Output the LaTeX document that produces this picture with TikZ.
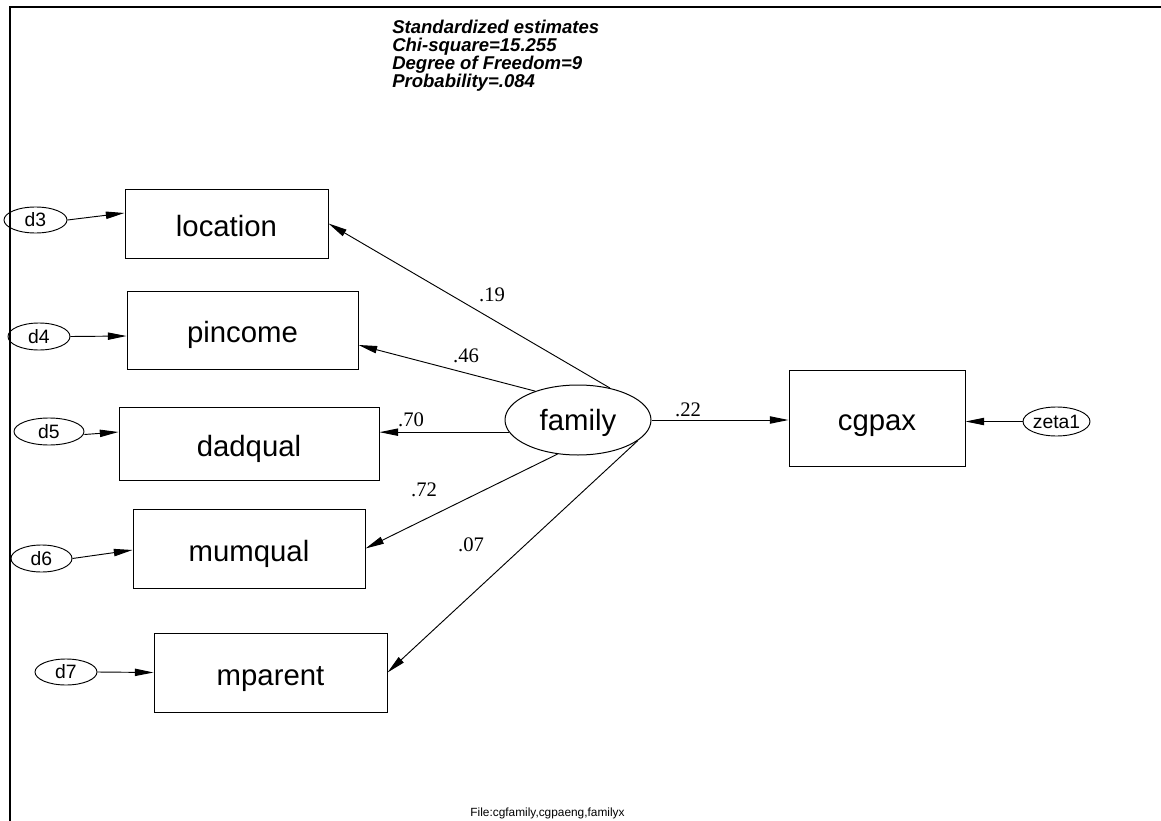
\documentclass[tikz,border=0pt]{standalone}
\usepackage{fontspec}
\setmainfont{Liberation Sans}
\newfontfamily\numfont{Liberation Serif}
\usetikzlibrary{arrows.meta,calc,shapes.geometric}
\begin{document}
\begin{tikzpicture}[x=0.75pt,y=-0.75pt,
  box/.style={draw, line width=0.75pt, inner sep=0pt, text height=18.75pt, text depth=0pt, font=\fontsize{22}{26}\selectfont},
  err/.style={ellipse, draw, line width=0.7pt, inner sep=0pt, font=\fontsize{14.5}{17}\selectfont},
  lat/.style={ellipse, draw, line width=0.75pt, inner sep=0pt, text height=15pt, text depth=0pt, font=\fontsize{22}{26}\selectfont},
  coef/.style={font=\numfont\fontsize{15.5}{18}\selectfont, inner sep=0pt},
  title/.style={font=\bfseries\itshape\fontsize{13.9}{16}\selectfont, inner sep=0pt, anchor=base west},
  arr/.style={-{Triangle[length=14pt,width=5.5pt]}, line width=0.7pt},
  frame/.style={line width=1.5pt}]
\useasboundingbox (0,0) rectangle (1161,821);
% frame
\coordinate (ftl) at (10,7);
\coordinate (ftr) at (1161,7);
\coordinate (fbl) at (10,821);
\draw[frame] (ftr) -- (ftl) -- (fbl);
% title
\node[title] (t1) at (392,33) {Standardized estimates};
\node[title] (t2) at (392,51.5) {Chi-square=15.255};
\node[title] (t3) at (392,69.5) {Degree of Freedom=9};
\node[title] (t4) at (392,87) {Probability=.084};
% observed
\node[box, minimum width=203*0.75pt, minimum height=69*0.75pt] (location) at (226.5,223.5) {location};
\node[box, minimum width=231*0.75pt, minimum height=78*0.75pt] (pincome) at (242.5,330) {pincome};
\node[box, minimum width=260*0.75pt, minimum height=73*0.75pt] (dadqual) at (249,443.5) {dadqual};
\node[box, minimum width=232*0.75pt, minimum height=79*0.75pt] (mumqual) at (249,548.5) {mumqual};
\node[box, minimum width=233*0.75pt, minimum height=79*0.75pt] (mparent) at (270.5,672.5) {mparent};
\node[box, minimum width=176*0.75pt, minimum height=96*0.75pt] (cgpax) at (877,418) {cgpax};
% errors
\node[err, minimum width=63*0.75pt, minimum height=26*0.75pt] (d3) at (35.5,220) {d3};
\node[err, minimum width=62*0.75pt, minimum height=27*0.75pt] (d4) at (39,336.5) {d4};
\node[err, minimum width=70*0.75pt, minimum height=27*0.75pt] (d5) at (49,431.5) {d5};
\node[err, minimum width=61*0.75pt, minimum height=27*0.75pt] (d6) at (41.5,558.5) {d6};
\node[err, minimum width=62*0.75pt, minimum height=26*0.75pt] (d7) at (66,672) {d7};
\node[err, minimum width=67*0.75pt, minimum height=29*0.75pt] (zeta1) at (1056.5,421.5) {zeta1};
% latent
\node[lat, minimum width=146*0.75pt, minimum height=70*0.75pt] (family) at (578,420) {family};
% error arrows
\draw[arr] (d3.east) -- ($(location.west)+(0,-10.5)$);
\draw[arr] (d4.east) -- ($(pincome.west)+(0,6)$);
\draw[arr] ($(d5.east)+(0,3)$) -- ($(dadqual.west)+(0,-11.5)$);
\draw[arr] (d6.east) -- ($(mumqual.west)+(0,1.5)$);
\draw[arr] (d7.east) -- (mparent.west);
\draw[arr] (zeta1.west) -- (zeta1.west -| cgpax.east);
% loadings
\draw[arr] (family.45) -- (location.east);
\draw[arr] (family.146) -- ($(pincome.east)+(0,15)$);
\draw[arr] (family.190) -- (family.190 -| dadqual.east);
\draw[arr] (family.239) -- (mumqual.east);
\draw[arr] (family.341) -- (mparent.east);
\draw[arr] (family.east) -- (family.east -| cgpax.west);
% coefficients
\node[coef] (c19) at (492,295) {.19};
\node[coef] (c46) at (466,356) {.46};
\node[coef] (c70) at (411,420) {.70};
\node[coef] (c72) at (424,490) {.72};
\node[coef] (c07) at (471,545) {.07};
\node[coef] (c22) at (688,410) {.22};
% footer
\node[font=\fontsize{8.9}{10}\selectfont, inner sep=0pt, anchor=base] (foot) at (547.5,816) {File:cgfamily,cgpaeng,familyx};
\end{tikzpicture}
\end{document}
